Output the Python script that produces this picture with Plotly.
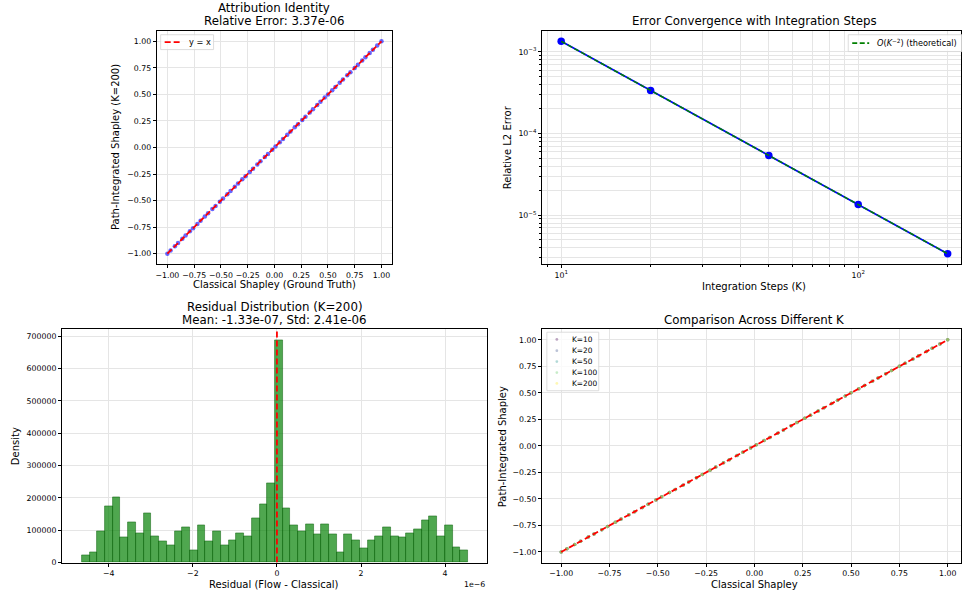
import plotly.graph_objects as go

# ---------------- data ----------------
classical = [-1.0, -0.97, -0.93, -0.9, -0.86, -0.83, -0.79, -0.76, -0.72, -0.69, -0.65, -0.62,
             -0.58, -0.55, -0.51, -0.48, -0.44, -0.41, -0.37, -0.34, -0.3, -0.27, -0.23, -0.2,
             -0.16, -0.13, -0.09, -0.06, -0.02, 0.01, 0.05, 0.08, 0.12, 0.15, 0.19, 0.22, 0.26,
             0.29, 0.33, 0.36, 0.4, 0.43, 0.47, 0.5, 0.54, 0.57, 0.61, 0.64, 0.68, 0.71, 0.75,
             0.78, 0.82, 0.85, 0.89, 0.92, 0.96, 1.0]
path_k200 = list(classical)  # differences ~1e-6, visually identical
identity_ends = [-1.0, 1.0]

steps_k = [10, 20, 50, 100, 200]
rel_error = [1.35e-3, 3.37e-4, 5.39e-5, 1.35e-5, 3.37e-6]
theoretical = [1.35e-3, 3.37e-4, 5.39e-5, 1.35e-5, 3.37e-6]

hist_start = -4.645e-6
hist_width = 0.1838e-6
hist_density = [21500, 33000, 98000, 175000, 202000, 77000, 126000, 92000, 152500, 82000,
                65500, 55000, 98000, 109500, 38000, 114500, 65500, 98000, 55000, 70500,
                92000, 82000, 136000, 180000, 245500, 688000, 169000, 114500, 98000, 120000,
                87000, 120000, 87000, 33000, 87000, 70500, 44000, 70500, 82000, 109500,
                82000, 77000, 92000, 103000, 131000, 142000, 82000, 114500, 49000, 38000]

k_labels = ["K=10", "K=20", "K=50", "K=100", "K=200"]
k_colors = ["#440154", "#3b528b", "#21918c", "#5ec962", "#fde725"]

shap_ticks = [-1.0, -0.75, -0.5, -0.25, 0.0, 0.25, 0.5, 0.75, 1.0]
shap_text = ["−1.00", "−0.75", "−0.50", "−0.25", "0.00", "0.25", "0.50", "0.75", "1.00"]

# ---------------- layout helpers ----------------
W, H = 962, 600
FONT = "DejaVu Sans"
GRID = "#e5e5e5"
TICKF = dict(family=FONT, size=7.8, color="#000000")


def px_x(p):
    return p / W


def px_y(p):
    return 1 - p / H


def hex_rgba(h, a):
    h = h.lstrip("#")
    return f"rgba({int(h[0:2], 16)},{int(h[2:4], 16)},{int(h[4:6], 16)},{a})"


def axis(domain, rng, **kw):
    d = dict(domain=domain, range=rng, showline=True, mirror=True, linecolor="#000000",
             linewidth=0.9, ticks="outside", ticklen=3, tickwidth=0.8, tickcolor="#000000",
             showgrid=True, gridcolor=GRID, gridwidth=0.8, zeroline=False,
             tickfont=TICKF, tickangle=0)
    d.update(kw)
    return d


fig = go.Figure()

# ---- panel 1: attribution identity ----
fig.add_trace(go.Scatter(x=classical, y=path_k200, mode="markers", xaxis="x", yaxis="y",
                         marker=dict(color="#0000ff", size=4.5, opacity=0.6, line=dict(width=0)),
                         showlegend=False))
fig.add_trace(go.Scatter(x=identity_ends, y=identity_ends, mode="lines", xaxis="x", yaxis="y",
                         line=dict(color="#ff0000", width=1.8, dash="6px,3px"), showlegend=False))

# ---- panel 2: convergence ----
fig.add_trace(go.Scatter(x=steps_k, y=rel_error, mode="lines+markers", xaxis="x2", yaxis="y2",
                         line=dict(color="#0000ff", width=1.8),
                         marker=dict(color="#0000ff", size=7.5), showlegend=False))
fig.add_trace(go.Scatter(x=steps_k, y=theoretical, mode="lines", xaxis="x2", yaxis="y2",
                         line=dict(color="#008000", width=1.5, dash="5px,2.5px"), showlegend=False))

# ---- panel 3: residual histogram ----
hist_centers = [hist_start + (i + 0.5) * hist_width for i in range(len(hist_density))]
fig.add_trace(go.Bar(x=hist_centers, y=hist_density, width=hist_width, xaxis="x3", yaxis="y3",
                     marker=dict(color="rgba(0,128,0,0.69)",
                                 line=dict(color="rgba(0,90,0,0.8)", width=0.6)),
                     showlegend=False))
fig.add_trace(go.Scatter(x=[0, 0], y=[0, 722000], mode="lines", xaxis="x3", yaxis="y3",
                         line=dict(color="#ff0000", width=1.8, dash="6px,3px"), showlegend=False))

# ---- panel 4: comparison across K ----
for lab, col in zip(k_labels, k_colors):
    fig.add_trace(go.Scatter(x=classical, y=path_k200, mode="markers", xaxis="x4", yaxis="y4",
                             name=lab, marker=dict(color=col, size=3.5, opacity=0.35, line=dict(width=0)),
                             showlegend=False))
fig.add_trace(go.Scatter(x=identity_ends, y=identity_ends, mode="lines", xaxis="x4", yaxis="y4",
                         line=dict(color="#ff0000", width=1.8, dash="6px,3px"), showlegend=False))

# log-axis minor tick sets
x2_minor = [9, 20, 30, 40, 50, 60, 70, 80, 90, 200]
y2_minor = [m * 10 ** e for e in [-6, -5, -4, -3] for m in range(2, 10)
            if 2.5e-6 <= m * 10 ** e <= 1.8e-3]
minor_style = dict(ticks="outside", ticklen=1.8, tickwidth=0.6, tickcolor="#000000",
                   showgrid=True, gridcolor=GRID, gridwidth=0.8)

top_y = [px_y(266.5), px_y(31)]
bot_y = [px_y(567.3), px_y(332)]
left_x = [px_x(61), px_x(487)]
right_x = [px_x(542), 1.0]

fig.update_layout(
    width=W, height=H, margin=dict(l=0, r=0, t=0, b=0),
    paper_bgcolor="white", plot_bgcolor="white",
    font=dict(family=FONT, color="#000000"),
    bargap=0, showlegend=False,
    xaxis=axis([px_x(156), px_x(392)], [-1.1, 1.1], tickvals=shap_ticks, ticktext=shap_text, anchor="y"),
    yaxis=axis(top_y, [-1.1, 1.1], tickvals=shap_ticks, ticktext=shap_text, anchor="x"),
    xaxis2=axis(right_x, [0.935, 2.346], type="log", tickvals=[10, 100],
                ticktext=["10<sup>1</sup>", "10<sup>2</sup>"], anchor="y2",
                minor=dict(tickvals=x2_minor, **minor_style)),
    yaxis2=axis(top_y, [-5.602, -2.740], type="log", tickvals=[1e-5, 1e-4, 1e-3],
                ticktext=["10<sup>−5</sup>", "10<sup>−4</sup>", "10<sup>−3</sup>"], anchor="x2",
                minor=dict(tickvals=y2_minor, **minor_style)),
    xaxis3=axis(left_x, [-5.116e-6, 4.997e-6], tickvals=[-4e-6, -2e-6, 0, 2e-6, 4e-6],
                ticktext=["−4", "−2", "0", "2", "4"], anchor="y3"),
    yaxis3=axis(bot_y, [0, 722000], tickvals=[0, 100000, 200000, 300000, 400000, 500000, 600000, 700000],
                ticktext=["0", "100000", "200000", "300000", "400000", "500000", "600000", "700000"],
                anchor="x3"),
    xaxis4=axis(right_x, [-1.1, 1.069], tickvals=shap_ticks, ticktext=shap_text, anchor="y4"),
    yaxis4=axis(bot_y, [-1.1, 1.1], tickvals=shap_ticks, ticktext=shap_text, anchor="x4"),
)

ann = []
shapes = []


def text(s, x, y, size, angle=0, xanchor="center", color="#000000"):
    ann.append(dict(text=s, x=px_x(x), y=px_y(y), xref="paper", yref="paper", showarrow=False,
                    xanchor=xanchor, yanchor="middle", textangle=angle,
                    font=dict(family=FONT, size=size, color=color)))


def legend_box(x0, y0, x1, y1):
    shapes.append(dict(type="rect", xref="paper", yref="paper", x0=px_x(x0), x1=px_x(x1),
                       y0=px_y(y1), y1=px_y(y0), line=dict(color="#d4d4d4", width=0.8),
                       fillcolor="rgba(255,255,255,0.8)", layer="above"))


def legend_line(x0, x1, y, color, dash):
    shapes.append(dict(type="line", xref="paper", yref="paper", x0=px_x(x0), x1=px_x(x1),
                       y0=px_y(y), y1=px_y(y), line=dict(color=color, width=1.8, dash=dash),
                       layer="above"))


def legend_dot(x, y, r, color):
    shapes.append(dict(type="circle", xref="paper", yref="paper", x0=px_x(x - r), x1=px_x(x + r),
                       y0=px_y(y + r), y1=px_y(y - r), line=dict(width=0),
                       fillcolor=hex_rgba(color, 0.35), layer="above"))


# legends (drawn manually for matplotlib-like compact spacing)
legend_box(160, 35, 213, 50)
legend_line(164, 179, 42.5, "#ff0000", "6px,3px")
text("y = x", 186, 42.5, 8.2, xanchor="left")

legend_box(849, 35, 975, 52)
legend_line(853, 870, 43.5, "#008000", "5px,2.5px")
text("<i>O</i>(<i>K</i><sup>−2</sup>) (theoretical)", 876, 43.5, 8.2, xanchor="left")

legend_box(547, 335, 599, 394)
rows_y = [342.3, 353.6, 364.6, 375.7, 386.7]
for lab, col, yy in zip(k_labels, k_colors, rows_y):
    legend_dot(557, yy, 1.4, col)
    text(lab, 570, yy, 7.4, xanchor="left")

# titles
text("Attribution Identity", 274, 8, 11.8)
text("Relative Error: 3.37e-06", 274, 21.5, 11.8)
text("Error Convergence with Integration Steps", 755, 21.5, 11.8)
text("Residual Distribution (K=200)", 274, 309.5, 11.8)
text("Mean: -1.33e-07, Std: 2.41e-06", 274, 323, 11.8)
text("Comparison Across Different K", 755, 322.5, 11.8)
# axis labels
text("Classical Shapley (Ground Truth)", 274, 287, 10)
text("Path-Integrated Shapley (K=200)", 115, 148.5, 10, angle=-90)
text("Integration Steps (K)", 755, 288.5, 10)
text("Relative L2 Error", 507, 148.5, 10, angle=-90)
text("Residual (Flow - Classical)", 274, 589, 10)
text("Density", 14, 450, 10, angle=-90)
text("Classical Shapley", 755, 589, 10)
text("Path-Integrated Shapley", 502, 450, 10, angle=-90)
text("1e−6", 487, 589, 7.8, xanchor="right")

fig.update_layout(annotations=ann, shapes=shapes)
fig.write_html("out.html", config={"displayModeBar": False},
               post_script="document.body.style.margin='0px';")
